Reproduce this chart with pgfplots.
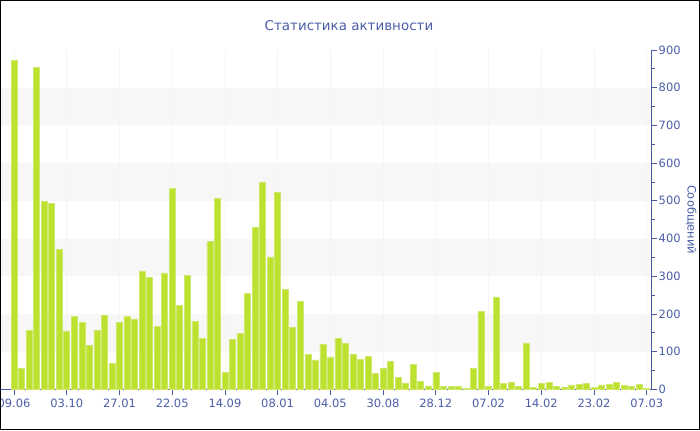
\documentclass[border=0pt]{standalone}
\usepackage{fontspec}
\setmainfont{DejaVu Sans}
\usepackage{pgfplots}
\pgfplotsset{compat=1.18}
\definecolor{axisblue}{HTML}{4A5BA5}
\definecolor{textblue}{HTML}{4A5CA8}
\definecolor{barfill}{HTML}{BDE12F}
\definecolor{baredge}{HTML}{CFE86F}
\definecolor{band}{HTML}{F7F7F7}
\begin{document}
\begin{tikzpicture}[x=1bp,y=1bp]
\begin{axis}[
  set layers,
  scale only axis, width=650bp, height=339.3bp,
  xmin=-1.7, xmax=84.6, ymin=0, ymax=900,
  axis x line*=bottom, axis y line*=right,
  axis line style={-, draw=axisblue, line width=0.9bp},
  xtick={0,7,...,84},
  xticklabels={09.06,03.10,27.01,22.05,14.09,08.01,04.05,30.08,28.12,07.02,14.02,23.02,07.03},
  ytick={0,100,...,900},
  minor y tick num=1,
  tick style={draw=axisblue, line width=0.8bp},
  major tick length=6bp, minor tick length=4bp,
  tick align=outside,
  xmajorgrids, grid style={draw=black!4, line width=0.6bp},
  /pgf/number format/assume math mode=true,
  ticklabel style={font=\fontsize{11.5}{13}\selectfont, text=textblue},
  yticklabel style={xshift=-2bp},
  title={Статистика активности},
  title style={font=\fontsize{13.5}{16}\selectfont, text=textblue, at={(axis description cs:0.535,1)}, anchor=center, yshift=18bp},
  ylabel={Сообщений},
  every axis y label/.style={at={(axis description cs:1,0.5)}, xshift=40bp, rotate=-90, anchor=center, font=\fontsize{11.5}{14}\selectfont, text=textblue},
  ybar, bar width=6bp,
]
\begin{pgfonlayer}{axis background}
\fill[band] (axis cs:-1.7,100) rectangle (axis cs:84.6,200);
\fill[band] (axis cs:-1.7,300) rectangle (axis cs:84.6,400);
\fill[band] (axis cs:-1.7,500) rectangle (axis cs:84.6,600);
\fill[band] (axis cs:-1.7,700) rectangle (axis cs:84.6,800);
\end{pgfonlayer}
\addplot[fill=barfill, draw=baredge, line width=0.5bp] coordinates {
(0,872) (1,56) (2,157) (3,853) (4,499) (5,494) (6,372) (7,155) (8,194) (9,177)
(10,116) (11,157) (12,196) (13,69) (14,177) (15,194) (16,187) (17,314) (18,296) (19,167)
(20,309) (21,532) (22,222) (23,303) (24,181) (25,135) (26,392) (27,506) (28,45) (29,133)
(30,149) (31,255) (32,429) (33,550) (34,351) (35,523) (36,266) (37,165) (38,234) (39,93)
(40,78) (41,119) (42,86) (43,135) (44,122) (45,94) (46,80) (47,88) (48,42) (49,57)
(50,74) (51,31) (52,17) (53,66) (54,21) (55,9) (56,45) (57,8) (58,8) (59,8)
(60,4) (61,56) (62,207) (63,9) (64,245) (65,15) (66,19) (67,8) (68,123) (69,5)
(70,16) (71,19) (72,8) (73,5) (74,12) (75,13) (76,15) (77,5) (78,12) (79,13)
(80,19) (81,11) (82,7) (83,13) (84,4)
};
\end{axis}
\draw[black, line width=1bp] (-0.7,-40.2) rectangle (698.3,388.8);
\pgfresetboundingbox
\useasboundingbox (-1.2,-40.7) rectangle (698.8,389.3);
\end{tikzpicture}
\end{document}
